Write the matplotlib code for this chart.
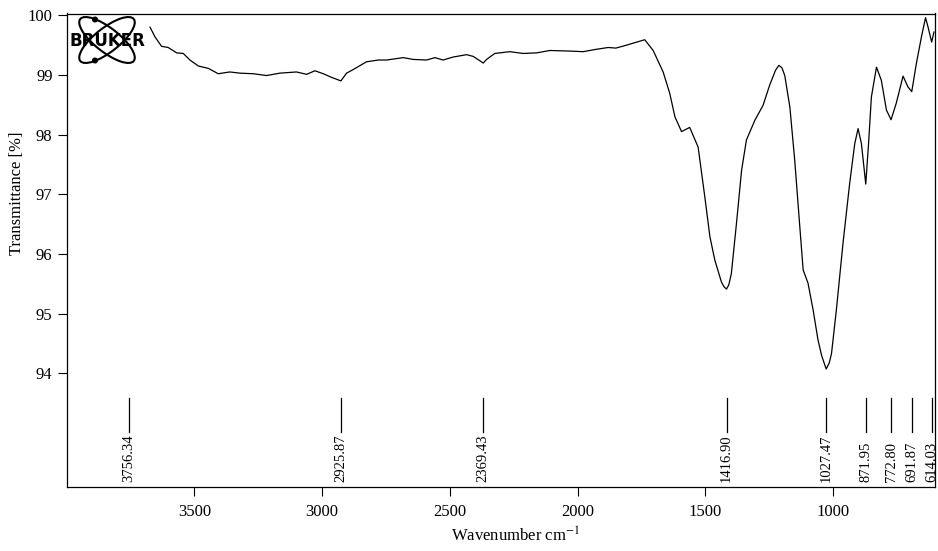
import numpy as np
import matplotlib
matplotlib.use('Agg')
import matplotlib.pyplot as plt
from matplotlib.patches import Ellipse, Circle

plt.rcParams['font.family'] = ['Liberation Serif', 'DejaVu Serif']
plt.rcParams['mathtext.fontset'] = 'stix'

# spectrum (wavenumber cm-1, transmittance %)
wavenumber = [3673, 3654, 3628, 3602, 3569, 3543, 3517, 3484, 3445, 3406,
              3361, 3321, 3269, 3217, 3165, 3100, 3060, 3028, 2995, 2963,
              2926, 2904, 2878, 2826, 2780, 2747, 2682, 2643, 2591, 2558,
              2526, 2487, 2434, 2408, 2369, 2356, 2324, 2265, 2213, 2160,
              2108, 2030, 1978, 1926, 1880, 1850, 1808, 1737, 1704, 1665,
              1639, 1619, 1593, 1561, 1528, 1502, 1482, 1463, 1437, 1427,
              1417, 1408, 1398, 1378, 1358, 1339, 1306, 1274, 1248, 1225, 1212,
              1200, 1189, 1169, 1150, 1130, 1117, 1098, 1078, 1059, 1045, 1027,
              1015, 1006, 987, 961, 935, 915, 902, 889, 872, 861,
              850, 830, 811, 791, 773, 753, 726, 707, 692, 674,
              654, 638, 628, 614, 605]
transmittance = [99.80, 99.64, 99.48, 99.46, 99.37, 99.36, 99.25, 99.15, 99.11, 99.02,
                 99.05, 99.03, 99.02, 98.99, 99.03, 99.05, 99.01, 99.07, 99.02, 98.96,
                 98.90, 99.03, 99.09, 99.22, 99.25, 99.25, 99.29, 99.26, 99.25, 99.29,
                 99.25, 99.30, 99.34, 99.31, 99.20, 99.26, 99.36, 99.39, 99.36, 99.37,
                 99.41, 99.40, 99.39, 99.43, 99.46, 99.45, 99.50, 99.59, 99.41, 99.05,
                 98.69, 98.30, 98.05, 98.12, 97.79, 96.96, 96.29, 95.90, 95.53, 95.45,
                 95.41, 95.48, 95.67, 96.51, 97.40, 97.91, 98.24, 98.49, 98.83, 99.08, 99.16,
                 99.12, 98.99, 98.46, 97.57, 96.45, 95.73, 95.51, 95.06, 94.56, 94.30, 94.07,
                 94.17, 94.33, 95.06, 96.18, 97.18, 97.85, 98.10, 97.85, 97.17, 97.85,
                 98.63, 99.13, 98.91, 98.41, 98.25, 98.52, 98.98, 98.80, 98.72, 99.19,
                 99.64, 99.96, 99.80, 99.55, 99.72]

peak_wn = [3756.34, 2925.87, 2369.43, 1416.90, 1027.47, 871.95, 772.80, 691.87, 614.03]
peak_labels = ['3756.34', '2925.87', '2369.43', '1416.90', '1027.47',
               '871.95', '772.80', '691.87', '614.03']

x_ticks = [3500, 3000, 2500, 2000, 1500, 1000]
y_ticks = [94, 95, 96, 97, 98, 99, 100]

fig = plt.figure(figsize=(9.38, 5.51), dpi=100)
ax = fig.add_axes([66.5 / 938, 1 - 486.5 / 551, 868.5 / 938, 473 / 551])

ax.plot(wavenumber, transmittance, color='black', lw=0.9)

ax.set_xlim(4000, 601)
ax.set_ylim(92.1, 100.03)
ax.set_xticks(x_ticks)
ax.set_yticks(y_ticks)
ax.tick_params(direction='out', length=6.5, width=0.8, labelsize=12, colors='black')
ax.tick_params(axis='x', pad=6)
for s in ax.spines.values():
    s.set_linewidth(0.9)

# peak markers
trans = ax.get_xaxis_transform()
for wn, lab in zip(peak_wn, peak_labels):
    ax.plot([wn, wn], [0.115, 0.187], transform=trans, color='black', lw=0.9)
    ax.text(wn, 0.01, lab, transform=trans, rotation=90, ha='center', va='bottom',
            fontsize=10.5)

ax.set_xlabel('Wavenumber cm$^{-1}$', fontsize=12)
ax.xaxis.label.set_va('center')
ax.xaxis.set_label_coords(0.5175, -0.105)
ax.set_ylabel('Transmittance [%]', fontsize=12)
ax.yaxis.label.set_va('center')
ax.yaxis.set_label_coords(-0.0575, 0.619)

# bruker logo
lg = fig.add_axes([66 / 938, 1 - 68 / 551, 84 / 938, 56 / 551])
lg.set_xlim(66, 150)
lg.set_ylim(68, 12)
lg.axis('off')
for ang in (38, -38):
    lg.add_patch(Ellipse((107, 40), 68, 24, angle=ang, fill=False, lw=1.5, ec='black'))
lg.add_patch(Circle((95, 19.5), 2.3, color='black'))
lg.add_patch(Circle((95, 60.5), 2.3, color='black'))
lg.text(107, 40.5, 'BRUKER', ha='center', va='center', fontsize=12,
        fontweight='heavy', family='DejaVu Sans')

fig.savefig('out.png', dpi=100)
